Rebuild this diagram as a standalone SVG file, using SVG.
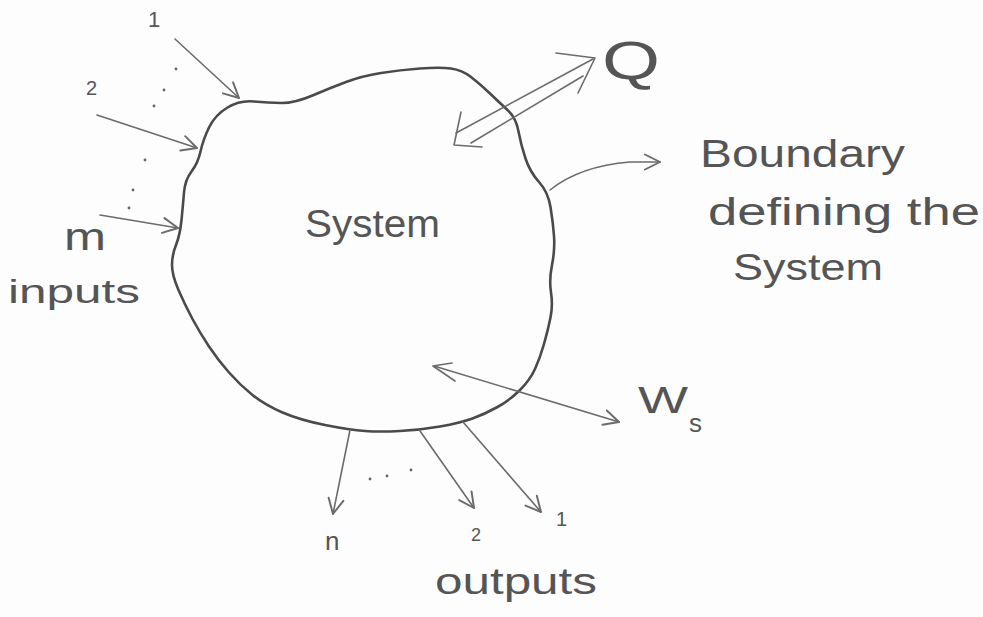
<svg xmlns="http://www.w3.org/2000/svg" width="983" height="617" viewBox="0 0 983 617">
<defs>
<style>
.bd{fill:none;stroke:#4a4a4a;stroke-width:2.6;stroke-linejoin:round;stroke-linecap:round}
.ar{fill:none;stroke:#6b6b6b;stroke-width:1.6;stroke-linecap:round;stroke-linejoin:round}
.t{font-family:"Liberation Sans",Arial,sans-serif;fill:#555;}
.dot{fill:#666}
</style>
<marker id="hd" viewBox="0 0 12 12" refX="11" refY="6" markerWidth="18" markerHeight="18" markerUnits="userSpaceOnUse" orient="auto">
<path d="M1,1 L11,6 L1,11" fill="none" stroke="#6b6b6b" stroke-width="1.3" stroke-linecap="round" stroke-linejoin="round"/>
</marker>
</defs>
<rect width="983" height="617" fill="#fdfdfd"/>

<g id="system">
<path class="bd" d="M227.5,107.5 Q240,100 254,101.5 Q268,103 281.5,103 Q295,103 312.5,95.5 Q330,88 346,82 Q362,76 381,73 Q400,70 420,68.5 Q440,67 451,68.5 Q462,70 471,77 Q480,84 490,93.5 Q500,103 508,110.5 Q516,118 518.5,131.5 Q521,145 525.5,158.5 Q530,172 539,182 Q548,192 550.5,207 Q553,222 554,236 Q555,250 552,265 Q549,280 551,292.5 Q553,305 550.5,317.5 Q548,330 544,344 Q540,358 535,369 Q530,380 520,390 Q510,400 497.5,407 Q485,414 472.5,418.5 Q460,423 440,426.5 Q420,430 400,431 Q380,432 365,431 Q350,430 325,425 Q300,420 282.5,412.5 Q265,405 252.5,395 Q240,385 229,372.5 Q218,360 209,346.5 Q200,333 192.5,319 Q185,305 178.5,290 Q172,275 172,265 Q172,255 176,245 Q180,235 181.5,220 Q183,205 184,192.5 Q185,180 191.5,171.5 Q198,163 200.5,151.5 Q203,140 209,127.5 Q215,115 227.5,107.5 Z"/>
<text class="t" x="305" y="237" font-size="38" textLength="135" lengthAdjust="spacingAndGlyphs">System</text>
</g>

<g id="inputs">
<text class="t" x="148" y="27" font-size="22">1</text>
<text class="t" x="86" y="95" font-size="20">2</text>
<text class="t" x="64" y="250" font-size="38" textLength="42" lengthAdjust="spacingAndGlyphs">m</text>
<text class="t" x="8" y="303" font-size="34" textLength="132" lengthAdjust="spacingAndGlyphs">inputs</text>
<circle class="dot" cx="176" cy="69" r="1.4"/>
<circle class="dot" cx="164" cy="90" r="1.4"/>
<circle class="dot" cx="154" cy="106" r="1.4"/>
<circle class="dot" cx="145" cy="160" r="1.4"/>
<circle class="dot" cx="133" cy="190" r="1.4"/>
<circle class="dot" cx="129" cy="208" r="1.4"/>
</g>

<g id="outputs">
<text class="t" x="325" y="550" font-size="26">n</text>
<text class="t" x="471" y="541" font-size="18">2</text>
<text class="t" x="556" y="526" font-size="20">1</text>
<text class="t" x="435" y="594" font-size="36" textLength="162" lengthAdjust="spacingAndGlyphs">outputs</text>
<circle class="dot" cx="370" cy="479" r="1.4"/>
<circle class="dot" cx="387" cy="476" r="1.4"/>
<circle class="dot" cx="411" cy="470" r="1.4"/>
</g>

<g id="heat">
<text class="t" x="602" y="79" font-size="54" textLength="58" lengthAdjust="spacingAndGlyphs">Q</text>
</g>

<g id="work">
<text class="t" x="638" y="413" font-size="36" textLength="50" lengthAdjust="spacingAndGlyphs">W</text>
<text class="t" x="689" y="432" font-size="26">s</text>
</g>

<g id="boundary-label">
<text class="t" x="700" y="167" font-size="38" textLength="205" lengthAdjust="spacingAndGlyphs">Boundary</text>
<text class="t" x="708" y="225" font-size="38" textLength="272" lengthAdjust="spacingAndGlyphs">defining the</text>
<text class="t" x="733" y="280" font-size="36" textLength="150" lengthAdjust="spacingAndGlyphs">System</text>
</g>

<g id="connectors">
<line class="ar" x1="175" y1="39" x2="239" y2="98" marker-end="url(#hd)"/>
<line class="ar" x1="97" y1="115" x2="197" y2="148" marker-end="url(#hd)"/>
<line class="ar" x1="100" y1="215" x2="178" y2="228" marker-end="url(#hd)"/>
<line class="ar" x1="350" y1="430" x2="333" y2="514" marker-end="url(#hd)"/>
<line class="ar" x1="420" y1="431" x2="474" y2="508" marker-end="url(#hd)"/>
<line class="ar" x1="463" y1="422" x2="541" y2="512" marker-end="url(#hd)"/>
<path class="ar" d="M550,190 Q580,166 630,162 L660,162" marker-end="url(#hd)"/>
<line class="ar" x1="434" y1="366" x2="619" y2="422" marker-end="url(#hd)"/>
<path class="ar" d="M452,363 L433,366 L455,381"/>
<line class="ar" x1="456" y1="133" x2="593" y2="59"/>
<line class="ar" x1="471" y1="143" x2="583" y2="76"/>
<path class="ar" d="M556,53 L595,58 L578,93"/>
<path class="ar" d="M461,112 L454,145 L482,147" stroke="#444" stroke-width="3"/>
</g>
</svg>
